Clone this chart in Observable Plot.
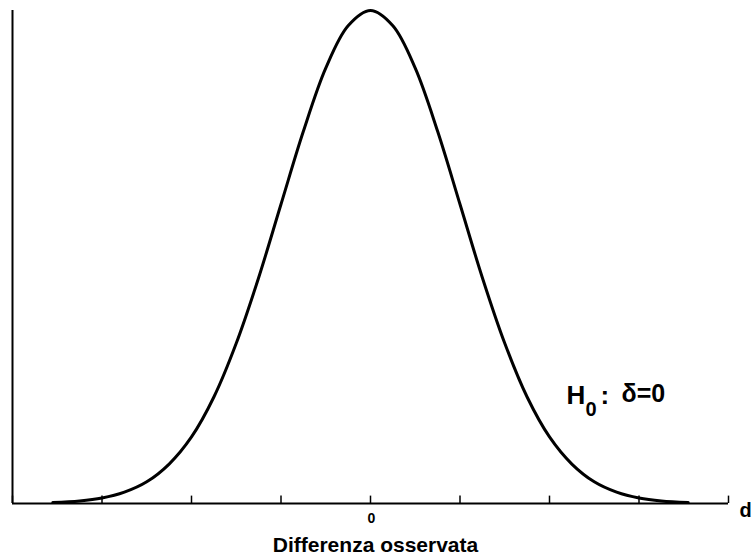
<!DOCTYPE html>
<html>
<head>
<meta charset="utf-8">
<script src="https://cdn.jsdelivr.net/npm/d3@7"></script>
<script src="https://cdn.jsdelivr.net/npm/@observablehq/plot@0.6"></script>
<style>
  html, body { margin: 0; padding: 0; background: #fff; }
  #chart svg { display: block; }
</style>
</head>
<body>
<div id="chart"></div>
<script>
// Observed difference (in units of the tick spacing) and relative curve height (peak = 1)
const diffs = [-3.55, -3.25, -3, -2.75, -2.5, -2.25, -2, -1.75, -1.5, -1.25, -1, -0.75, -0.5, -0.25, 0,
               0.25, 0.5, 0.75, 1, 1.25, 1.5, 1.75, 2, 2.25, 2.5, 2.75, 3, 3.25, 3.55];
const heights = [0.002, 0.005, 0.011, 0.023, 0.044, 0.080, 0.135, 0.216, 0.325, 0.458, 0.607, 0.755, 0.883, 0.969, 1,
                 0.969, 0.883, 0.755, 0.607, 0.458, 0.325, 0.216, 0.135, 0.080, 0.044, 0.023, 0.011, 0.005, 0.002];
const tickValues = [-4, -3, -2, -1, 0, 1, 2, 3, 4];
const tickLabels = ["0"];
const axisTitle = "Differenza osservata";
const axisSymbol = "d";

const curve = diffs.map((d, i) => ({diff: d, h: heights[i]}));
const font = "Arial, 'Liberation Sans', sans-serif";

const chart = Plot.plot({
  width: 752,
  height: 557,
  marginLeft: 12,
  marginRight: 24,
  marginTop: 10,
  marginBottom: 54,
  style: {fontFamily: font, background: "#fff", color: "#000"},
  x: {domain: [-4, 4], axis: null},
  y: {domain: [0, 1], axis: null},
  marks: [
    Plot.ruleY([0], {stroke: "#000", strokeWidth: 2}),
    Plot.ruleX([-4], {stroke: "#000", strokeWidth: 2}),
    Plot.ruleX(tickValues, {x: d => d, y1: 0, y2: 0.015, stroke: "#000", strokeWidth: 1.5}),
    Plot.line(curve, {x: "diff", y: "h", stroke: "#000", strokeWidth: 3, curve: "catmull-rom"}),
    Plot.text(tickLabels, {x: d => +d, y: 0, text: d => d, dx: 1, dy: 19, lineAnchor: "bottom",
      fontSize: 14, fontWeight: "bold", fill: "#000"}),
    Plot.text([axisTitle], {x: 0, y: 0, text: d => d, dx: 5, dy: 48, lineAnchor: "bottom",
      fontSize: 21, fontWeight: "bold", fill: "#000"}),
    Plot.text([axisSymbol], {x: 4, y: 0, text: d => d, dx: 11, dy: 13, lineAnchor: "bottom", textAnchor: "start",
      fontSize: 20, fontWeight: "bold", fill: "#000"}),
    // H0: δ=0 annotation
    Plot.text(["H"], {x: 2.19, y: 0.2028, text: d => d, textAnchor: "start", lineAnchor: "bottom",
      fontSize: 26, fontWeight: "bold", fill: "#000"}),
    Plot.text(["0"], {x: 2.19, y: 0.2028, text: d => d, dx: 19, dy: 12, textAnchor: "start", lineAnchor: "bottom",
      fontSize: 20, fontWeight: "bold", fill: "#000"}),
    Plot.text([":"], {x: 2.19, y: 0.2028, text: d => d, dx: 34, textAnchor: "start", lineAnchor: "bottom",
      fontSize: 26, fontWeight: "bold", fill: "#000"}),
    Plot.text(["δ=0"], {x: 2.19, y: 0.2028, text: d => d, dx: 55, dy: -2, textAnchor: "start", lineAnchor: "bottom",
      fontSize: 25, fontWeight: "bold", fill: "#000"})
  ]
});
document.getElementById("chart").appendChild(chart);
</script>
</body>
</html>
